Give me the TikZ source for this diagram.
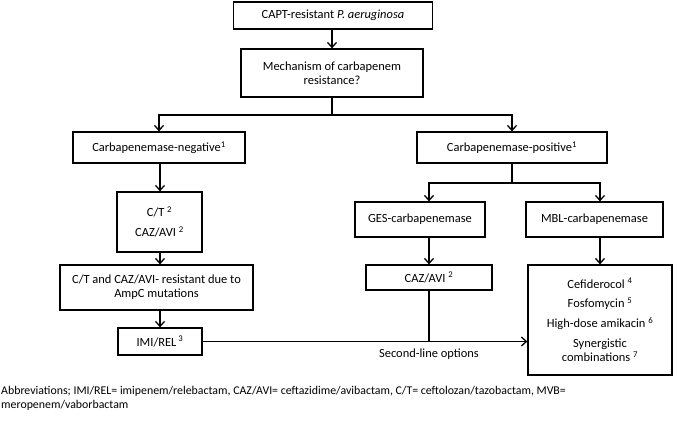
\documentclass[tikz,border=0pt]{standalone}
\usepackage{fontspec}
\setmainfont{Carlito}
\usetikzlibrary{arrows.meta}

\begin{document}
\begin{tikzpicture}[x=1bp, y=-1bp]
	\tikzstyle{Box} = [rectangle, draw=black, line width=1.3bp, align=center, inner sep=2pt, font=\fontsize{12.5}{14}\selectfont]
	\tikzstyle{flow} = [line width=1.3bp, -{Straight Barb[length=5pt, width=9pt]}]
	\useasboundingbox (0,0) rectangle (677,425);

	\node (capt) [Box, minimum width=199bp, minimum height=27bp] at (333,15.5) {CAPT-resistant \textit{P. aeruginosa}};
	\node (mech) [Box, minimum width=182bp, minimum height=48bp] at (332,73) {Mechanism of carbapenem\\resistance?};
	\node (neg) [Box, minimum width=172bp, minimum height=31bp] at (159,147.5) {Carbapenemase-negative\textsuperscript{1}};
	\node (pos) [Box, minimum width=190bp, minimum height=31bp] at (512,147.5) {Carbapenemase-positive\textsuperscript{1}};
	\node (ges) [Box, minimum width=130bp, minimum height=35bp] at (420,219.5) {GES-carbapenemase};
	\node (mbl) [Box, minimum width=137bp, minimum height=35bp] at (594.5,219.5) {MBL-carbapenemase};
	\node (ctcaz) [Box, minimum width=85bp, minimum height=60bp] at (159.5,222) {C/T \textsuperscript{2}\\[6bp]CAZ/AVI \textsuperscript{2}};
	\node (ampc) [Box, minimum width=193bp, minimum height=45bp] at (156.5,287.5) {C/T and CAZ/AVI- resistant due to\\AmpC mutations};
	\node (imi) [Box, minimum width=84bp, minimum height=27bp] at (160,341.5) {IMI/REL\,\textsuperscript{3}};
	\node (caz) [Box, minimum width=126bp, minimum height=25bp] at (429,277.5) {CAZ/AVI \textsuperscript{2}};
	\node (cefi) [Box, minimum width=144bp, minimum height=110bp] at (600,320) {Cefiderocol \textsuperscript{4}\\[6bp]Fosfomycin \textsuperscript{5}\\[6bp]High-dose amikacin \textsuperscript{6}\\[6bp]Synergistic\\combinations \textsuperscript{7}};

	\coordinate (split) at (332,115);
	\coordinate (splitpos) at (512,183);

	\draw [flow] (capt.south -| mech) -- (mech);
	\draw [line width=1.3bp] (mech) -- (split);
	\draw [flow] (split) -| (neg);
	\draw [flow] (split) -| (pos);
	\draw [flow] (neg.south -| imi) -- (ctcaz.north -| imi);
	\draw [flow] (ctcaz.south -| imi) -- (ampc.north -| imi);
	\draw [flow] (imi |- ampc.south) -- (imi);
	\draw [line width=1.3bp] (pos) -- (splitpos);
	\draw [flow] (splitpos) -| (ges.north -| caz);
	\draw [flow] (splitpos) -| (mbl.north -| cefi);
	\draw [flow] (ges.south -| caz) -- (caz);
	\draw [flow] (mbl.south -| cefi) -- (cefi);
	\draw [flow] (imi) -- (imi -| cefi.west);
	\draw [line width=1.3bp] (caz) -- (caz |- imi) node (second) [below=3bp, font=\fontsize{12.5}{14}\selectfont] {Second-line options};

	\node (abbr) [anchor=north west, align=left, inner sep=0pt, font=\fontsize{11.9}{14}\selectfont] at (1,386) {Abbreviations; IMI/REL= imipenem/relebactam, CAZ/AVI= ceftazidime/avibactam, C/T= ceftolozan/tazobactam, MVB=\\meropenem/vaborbactam};
\end{tikzpicture}
\end{document}
